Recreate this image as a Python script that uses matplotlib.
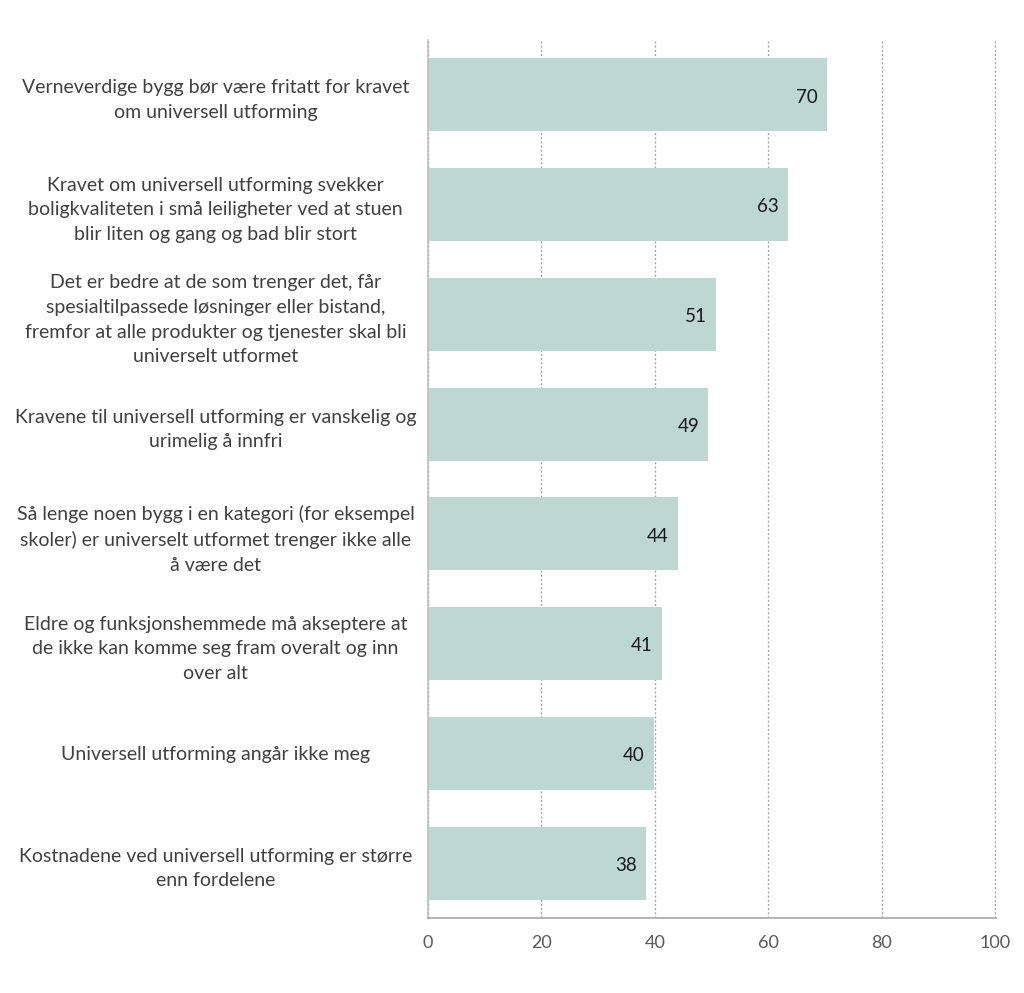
import matplotlib
matplotlib.use("Agg")
import matplotlib.pyplot as plt

categories = [
    "Verneverdige bygg bør være fritatt for kravet\nom universell utforming",
    "Kravet om universell utforming svekker\nboligkvaliteten i små leiligheter ved at stuen\nblir liten og gang og bad blir stort",
    "Det er bedre at de som trenger det, får\nspesialtilpassede løsninger eller bistand,\nfremfor at alle produkter og tjenester skal bli\nuniverselt utformet",
    "Kravene til universell utforming er vanskelig og\nurimelig å innfri",
    "Så lenge noen bygg i en kategori (for eksempel\nskoler) er universelt utformet trenger ikke alle\nå være det",
    "Eldre og funksjonshemmede må akseptere at\nde ikke kan komme seg fram overalt og inn\nover alt",
    "Universell utforming angår ikke meg",
    "Kostnadene ved universell utforming er større\nenn fordelene",
]
values = [70.4, 63.4, 50.7, 49.4, 44.0, 41.2, 39.8, 38.4]
xticks = [0, 20, 40, 60, 80, 100]

plt.rcParams['font.family'] = ['Lato', 'DejaVu Sans']

fig = plt.figure(figsize=(10.24, 9.93), dpi=100)
ax = fig.add_axes([428/1024, 1-918/993, (996-428)/1024, (918-40)/993])

ypos = list(range(len(categories)))
bars = ax.barh(ypos, values, height=0.665, color="#BDD7D2", zorder=2)
ax.set_ylim(len(categories) - 0.5, -0.5)
ax.set_xlim(0, 100.15)
ax.set_xticks(xticks)
ax.set_xticklabels([str(t) for t in xticks])
ax.set_yticks(ypos)
ax.set_yticklabels(categories, ha="center", fontsize=14.0, color="#404040", linespacing=1.55)
ax.tick_params(axis="y", length=0, pad=153)
ax.tick_params(axis="x", length=0, pad=12, labelsize=13, labelcolor="#595959")

for b, v in zip(bars, values):
    ax.text(v - 1.6, b.get_y() + b.get_height() / 2 + 0.02, f"{v:.0f}", ha="right", va="center",
            fontsize=13.5, color="#1a1a1a", zorder=3)

ax.grid(axis="x", linestyle=(0, (1.5, 1.5)), color="#A6A6A6", linewidth=1, zorder=1)
for s in ["top", "right"]:
    ax.spines[s].set_visible(False)
ax.spines["left"].set_color("#BFBFBF")
ax.spines["bottom"].set_color("#A6A6A6")
ax.spines["left"].set_linewidth(1.2)
ax.spines["bottom"].set_linewidth(1.2)

fig.savefig("out.png", dpi=100)
